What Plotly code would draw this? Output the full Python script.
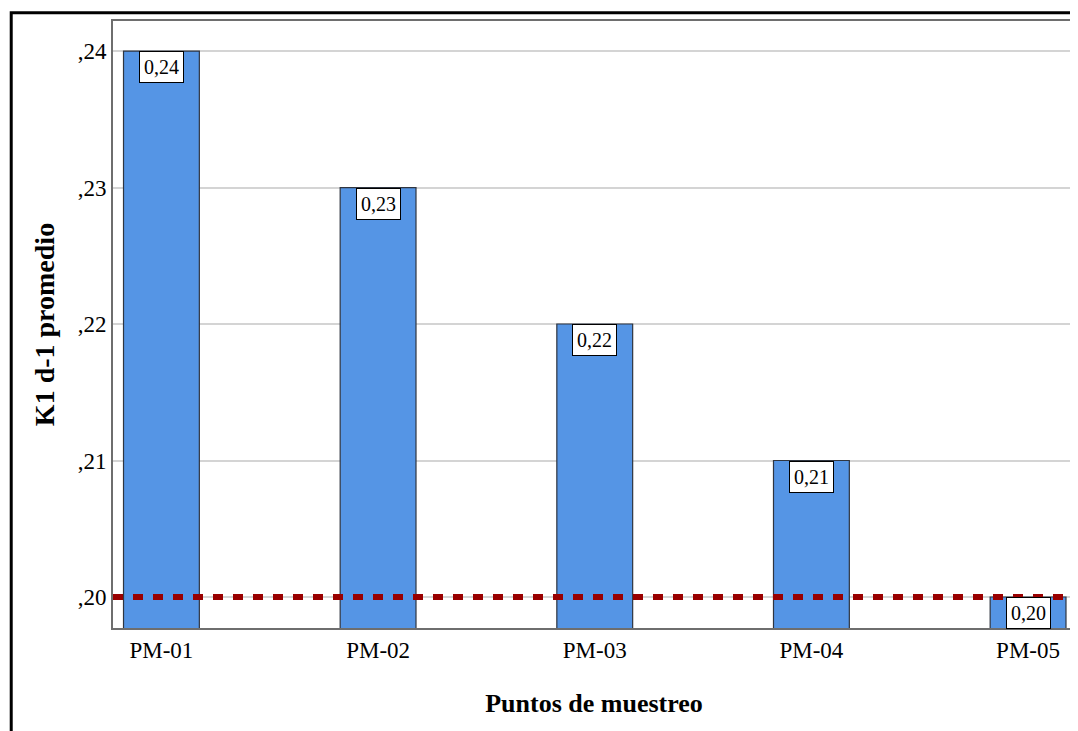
import plotly.graph_objects as go

categories = ["PM-01", "PM-02", "PM-03", "PM-04", "PM-05"]
values = [0.24, 0.23, 0.22, 0.21, 0.20]
threshold = 0.20
y_tickvals = [0.20, 0.21, 0.22, 0.23, 0.24]
y_ticktext = [",20", ",21", ",22", ",23", ",24"]
value_labels = [f"{v:.2f}".replace(".", ",") for v in values]

FONT = "Liberation Serif"

fig = go.Figure()
fig.add_trace(go.Bar(
    x=categories, y=values, width=0.35,
    marker=dict(color="#5595E5", line=dict(color="#2F3540", width=1.2)),
    hoverinfo="skip", showlegend=False,
))

fig.add_hline(y=threshold, line=dict(color="#990000", width=6, dash="10px,10px"), layer="above")

for c, v, t in zip(categories, values, value_labels):
    fig.add_annotation(
        x=c, y=v, xref="x", yref="y", text=t, showarrow=False,
        yanchor="top", xanchor="center",
        font=dict(family=FONT, size=20, color="black"),
        bgcolor="white", bordercolor="black", borderwidth=1, borderpad=4,
    )

# outer frame
fig.add_shape(type="rect", xref="paper", yref="paper",
              x0=-0.1058, x1=1.02, y0=-0.3, y1=1.0135,
              line=dict(color="black", width=3), fillcolor="rgba(0,0,0,0)", layer="below")

fig.update_layout(
    width=1070, height=723,
    margin=dict(l=105, r=1, t=13, b=103),
    paper_bgcolor="white", plot_bgcolor="white",
    font=dict(family=FONT, color="black"),
    xaxis=dict(
        range=[-0.2235, 4.2166],
        showgrid=False, ticks="",
        showline=True, linecolor="#6E6E6E", linewidth=2, mirror=True,
        tickfont=dict(family=FONT, size=23, color="black"),
        title=dict(text="<b>Puntos de muestreo</b>", font=dict(family=FONT, size=26, color="black"), standoff=32),
        fixedrange=True,
    ),
    yaxis=dict(
        range=[0.19773, 0.2422],
        tickvals=y_tickvals, ticktext=y_ticktext,
        showgrid=True, gridcolor="#D4D4D4", gridwidth=2,
        ticks="", zeroline=False,
        showline=True, linecolor="#6E6E6E", linewidth=2, mirror=True,
        tickfont=dict(family=FONT, size=23, color="black"),
        title=dict(text="<b>K1 d-1 promedio</b>", font=dict(family=FONT, size=28, color="black"), standoff=15),
        fixedrange=True,
    ),
)

fig.write_html("out.html")
